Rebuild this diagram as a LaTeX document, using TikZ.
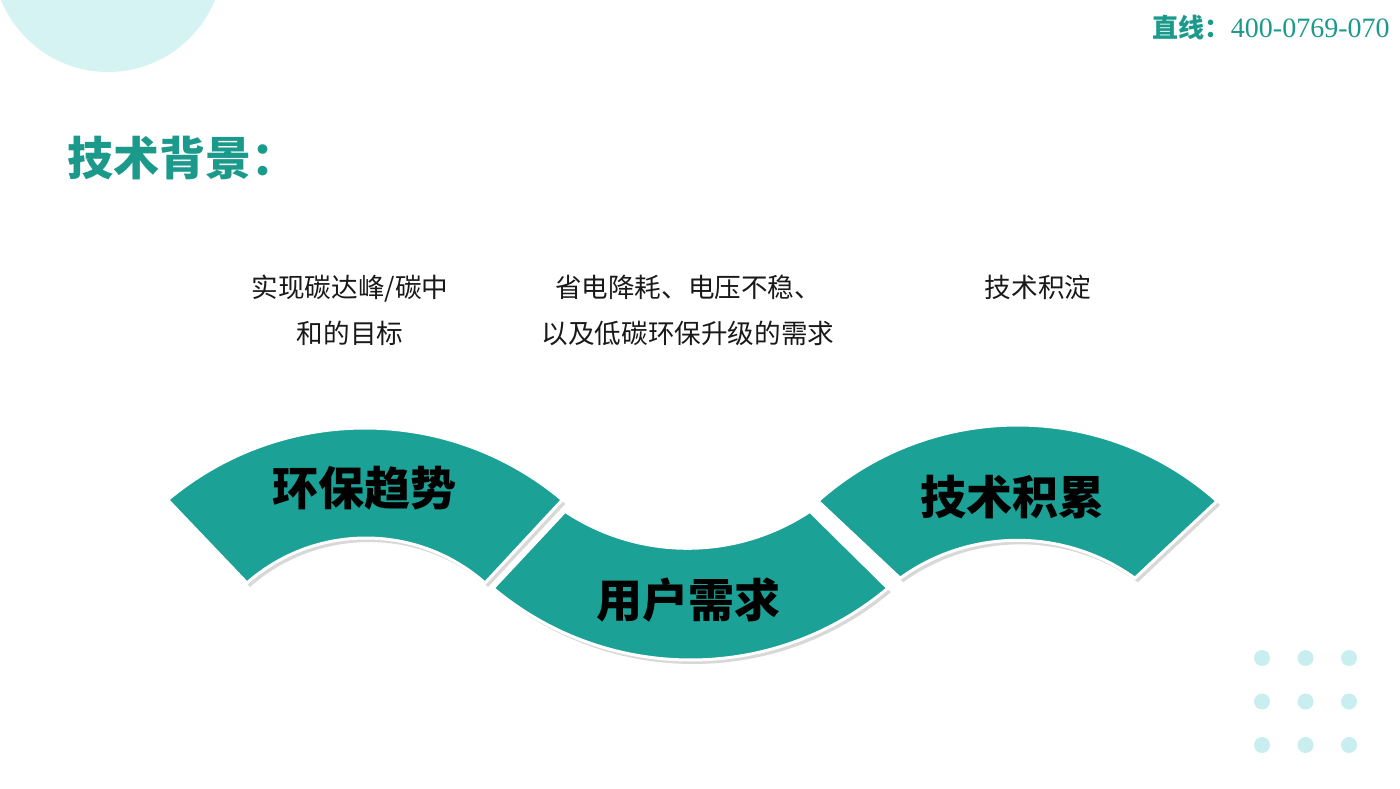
\documentclass[tikz,border=0pt]{standalone}
\usepackage{fontspec}
\setmainfont{Liberation Serif}
\newfontfamily\cjk{Noto Sans CJK SC}
\usetikzlibrary{positioning,calc,shadows}

\definecolor{bandteal}{RGB}{27,161,150}
\definecolor{titleteal}{RGB}{27,154,140}
\definecolor{palecyan}{RGB}{213,243,243}
\definecolor{dotcyan}{RGB}{200,238,240}

\tikzset{
	band/.style={fill=bandteal, draw=white, line width=1.5pt,
		drop shadow={shadow xshift=1.5pt, shadow yshift=-2pt, opacity=0.25, fill=black!60}},
	bandtext/.style={font=\cjk\bfseries\fontsize{23}{26}\selectfont, text=black},
	note/.style={font=\cjk\fontsize{13.3}{23}\selectfont, align=center, text=black!90},
}

\begin{document}
\begin{tikzpicture}[x=0.5pt,y=0.5pt]
	\useasboundingbox (0,0) rectangle (1400,788);
	\clip (0,0) rectangle (1400,788);
	\fill[white] (0,0) rectangle (1400,788);
	
	% CORNER DECORATION
	\fill[palecyan] (108,831.5) circle[radius=115.5];
	\foreach \i in {0,1,2}
		\foreach \j in {0,1,2}
			\fill[dotcyan] (1262+43.5*\i, 130-43.5*\j) circle[radius=8];
	
	% TITLE AND PHONE
	\node[anchor=west, font=\cjk\bfseries\fontsize{23}{26}\selectfont, text=titleteal] (title) at (60,630) {技术背景：};
	\node[anchor=east, inner sep=0pt, text=titleteal] (phone) at (1390,760) {{\cjk\bfseries\fontsize{13}{14}\selectfont 直线：}{\fontsize{14}{14}\selectfont 400-0769-070}};
	
	% NOTES
	\node[note] (goal) at (350,478) {实现碳达峰/碳中\\和的目标};
	\node[note] (demand) at (688,478) {省电降耗、电压不稳、\\以及低碳环保升级的需求};
	\node[note] (tech) at (1038,501) {技术积淀};
	
	% LEFT BAND
	\coordinate (lo) at (365,53);
	\coordinate (li) at (366,70);
	\path[band] ($(lo)+(130:307)$) arc[start angle=130, end angle=50, radius=307]
		-- ($(li)+(48.6:180)$) arc[start angle=48.6, end angle=131.4, radius=180] -- cycle;
	\node[bandtext] (trend) at (364,300) {环保趋势};
	
	% MIDDLE BAND
	\coordinate (mo) at (690.5,435);
	\coordinate (mi) at (687.5,461);
	\path[band] ($(mo)+(230:307)$) arc[start angle=230, end angle=310, radius=307]
		-- ($(mi)+(303.6:221.3)$) arc[start angle=303.6, end angle=236.4, radius=221.3] -- cycle;
	\node[bandtext] (user) at (688,188) {用户需求};
	
	% RIGHT BAND
	\coordinate (ro) at (1017.5,63);
	\coordinate (ri) at (1017.5,47);
	\path[band] ($(ro)+(131.7:300)$) arc[start angle=131.7, end angle=48.3, radius=300]
		-- ($(ri)+(54.2:200.7)$) arc[start angle=54.2, end angle=125.8, radius=200.7] -- cycle;
	\node[bandtext] (accum) at (1012,291) {技术积累};
\end{tikzpicture}
\end{document}
